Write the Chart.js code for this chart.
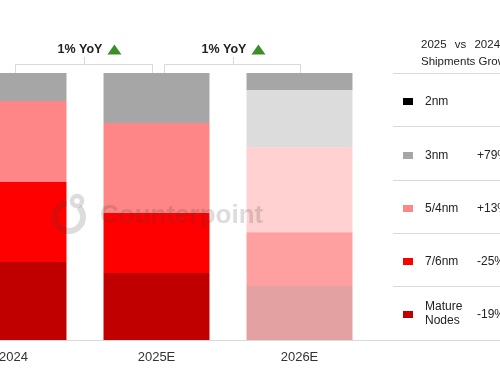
<!DOCTYPE html>
<html>
<head>
<meta charset="utf-8">
<script src="https://cdn.jsdelivr.net/npm/chart.js@4"></script>
<style>
  html, body { margin:0; padding:0; width:500px; height:383px; overflow:hidden; background:#fff; }
  #wrap { position:absolute; left:-58px; top:0; width:620px; height:383px; }
  .t { position:absolute; font-family:"Liberation Sans", Arial, sans-serif; color:#222; white-space:nowrap; }
  .hl { position:absolute; height:1px; background:#D9D9D9; }
  .sq { position:absolute; width:10px; height:7px; }
</style>
</head>
<body>
<div id="wrap"><canvas id="c" width="620" height="383"></canvas></div>
<div id="legend"></div>
<script>
// ---- data ----
const categories = ['2024', '2025E', '2026E'];
const seriesNames = ['Mature Nodes', '7/6nm', '5/4nm', '3nm', '2nm'];
const matureNodes = [29.2, 25.1, 20.2];
const node76 = [30.0, 22.5, 20.2];
const node54 = [30.3, 33.7, 31.8];
const node3 = [10.5, 18.7, 21.4];
const node2 = [0, 0, 6.4];
const growthLabels = ['-19%', '-25%', '+13%', '+79%', ''];
const yoyLabels = ['1% YoY', '1% YoY'];
const headerLines = ['2025 vs 2024', 'Shipments Growth'];

// ---- styles ----
const solidColors = ['#C00000', '#FF0000', '#FF8686', '#A6A6A6', '#000000'];
const forecastColors = ['#E3A1A1', '#FFA0A0', '#FFD1D1', '#DCDCDC', '#A6A6A6'];
const seriesValues = [matureNodes, node76, node54, node3, node2];
const OFF = 58;

const datasets = seriesValues.map((vals, i) => ({
  label: seriesNames[i],
  data: vals,
  backgroundColor: categories.map((c, j) => j === 2 ? forecastColors[i] : solidColors[i]),
  borderWidth: 0,
  barPercentage: 0.741,
  categoryPercentage: 1.0
}));

const decor = {
  id: 'decor',
  beforeDatasetsDraw(chart) {
    const ctx = chart.ctx;
    const a = chart.chartArea;
    ctx.save();
    ctx.strokeStyle = '#D9D9D9';
    ctx.lineWidth = 1;
    ctx.beginPath();
    ctx.moveTo(0, Math.round(a.bottom) + 0.5);
    ctx.lineTo(chart.width, Math.round(a.bottom) + 0.5);
    ctx.stroke();
    ctx.restore();
  },
  afterDatasetsDraw(chart) {
    const ctx = chart.ctx;
    const x = chart.scales.x;
    const a = chart.chartArea;
    const c = categories.map((_, i) => x.getPixelForValue(i));
    ctx.save();
    // brackets
    const br = [[c[0] + 1, c[1] - 5, -27], [c[1] + 7, c[2], -32]];
    const yH = 64.5, yTop = 57;
    br.forEach((b, k) => {
      const l = Math.round(b[0]) + 0.5, r = Math.round(b[1]) + 0.5;
      const m = Math.round((l + r) / 2) + 0.5;
      ctx.strokeStyle = '#D9D9D9';
      ctx.lineWidth = 1;
      ctx.beginPath();
      ctx.moveTo(l, a.top); ctx.lineTo(l, yH); ctx.lineTo(r, yH); ctx.lineTo(r, a.top);
      ctx.moveTo(m, yH); ctx.lineTo(m, yTop);
      ctx.stroke();
      ctx.font = 'bold 12.5px "Liberation Sans", Arial, sans-serif';
      ctx.fillStyle = '#222';
      ctx.textAlign = 'left';
      ctx.textBaseline = 'middle';
      const tx = m + b[2];
      ctx.fillText(yoyLabels[k], tx, 49.5);
      const w = ctx.measureText(yoyLabels[k]).width;
      const t0 = tx + w + 5;
      ctx.fillStyle = '#3B8C2A';
      ctx.beginPath();
      ctx.moveTo(t0, 54.5); ctx.lineTo(t0 + 14, 54.5); ctx.lineTo(t0 + 7, 44.5);
      ctx.closePath(); ctx.fill();
    });
    // watermark
    ctx.fillStyle = 'rgba(60,60,60,0.18)';
    ctx.strokeStyle = 'rgba(60,60,60,0.18)';
    ctx.font = 'bold 26px "Liberation Sans", Arial, sans-serif';
    ctx.textAlign = 'left';
    ctx.textBaseline = 'alphabetic';
    ctx.fillText('Counterpoint', OFF + 100, 223);
    ctx.lineWidth = 6;
    ctx.beginPath();
    ctx.arc(OFF + 69, 217, 14, -Math.PI * 0.25, Math.PI * 1.45);
    ctx.stroke();
    ctx.lineWidth = 4.5;
    ctx.beginPath();
    ctx.arc(OFF + 77, 201, 5, 0, Math.PI * 2);
    ctx.stroke();
    ctx.restore();
  }
};

new Chart(document.getElementById('c'), {
  type: 'bar',
  data: { labels: categories, datasets },
  options: {
    responsive: false,
    devicePixelRatio: 1,
    animation: false,
    layout: { padding: { left: 0, right: 191, top: 73, bottom: 7.4 } },
    plugins: { legend: { display: false }, tooltip: { enabled: false } },
    scales: {
      x: {
        stacked: true,
        offset: true,
        grid: { display: false, drawTicks: false, tickLength: 0 },
        border: { display: false },
        ticks: { color: '#333', font: { family: '"Liberation Sans", Arial, sans-serif', size: 13 }, padding: 10, maxRotation: 0 }
      },
      y: {
        stacked: true,
        display: false,
        min: 0,
        max: 100
      }
    }
  },
  plugins: [decor]
});

// ---- legend table (HTML) ----
const lg = document.getElementById('legend');
let html = '';
html += '<div class="t" style="left:421px;top:38px;font-size:11.5px;word-spacing:5px;">' + headerLines[0] + '</div>';
html += '<div class="t" style="left:421px;top:55px;font-size:11.5px;">' + headerLines[1] + '</div>';
const lineYs = [73, 126, 180, 233, 286, 340];
lineYs.forEach(y => { html += '<div class="hl" style="left:393px;top:' + y + 'px;width:107px;"></div>'; });
const rowCenters = [314, 261, 208, 155, 101];
for (let i = 4; i >= 0; i--) {
  const cy = rowCenters[i];
  html += '<div class="sq" style="left:403px;top:' + (cy - 3.5) + 'px;background:' + solidColors[i] + ';"></div>';
  if (seriesNames[i] === 'Mature Nodes') {
    html += '<div class="t" style="left:425px;top:' + (cy - 15) + 'px;font-size:12px;line-height:14px;">Mature<br>Nodes</div>';
  } else {
    html += '<div class="t" style="left:425px;top:' + (cy - 7) + 'px;font-size:12px;line-height:14px;">' + seriesNames[i] + '</div>';
  }
  if (growthLabels[i]) {
    html += '<div class="t" style="left:477px;top:' + (cy - 7) + 'px;font-size:12px;line-height:14px;">' + growthLabels[i] + '</div>';
  }
}
lg.innerHTML = html;
</script>
</body>
</html>
